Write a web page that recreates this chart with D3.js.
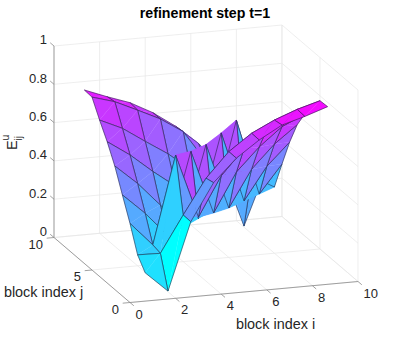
<!DOCTYPE html>
<html>
<head>
<meta charset="utf-8">
<script src="https://cdn.jsdelivr.net/npm/d3@7"></script>
<style>
  html, body { margin: 0; padding: 0; background: #fff; }
  text { font-family: "Liberation Sans", Arial, sans-serif; fill: #262626; }
</style>
</head>
<body>
<script>
// Tick values and labels
const xTicks = [0, 2, 4, 6, 8, 10];
const yTicks = [0, 5, 10];
const zTicks = [0, 0.2, 0.4, 0.6, 0.8, 1];
const blockI = [1, 2, 3, 4, 5, 6, 7, 8, 9];

// One row per block index j, values for i = 1..9
const rowJ1 = [0.110, 0.004, 0.355, 0.548, 0.665, 0.749, 0.816, 0.850, 0.890];
const rowJ2 = [0.170, 0.167, 0.356, 0.537, 0.665, 0.750, 0.808, 0.853, 0.887];
const rowJ3 = [0.300, 0.177, 0.635, 0.300, 0.505, 0.635, 0.725, 0.785, 0.820];
const rowJ4 = [0.415, 0.308, 0.180, 0.610, 0.277, 0.480, 0.600, 0.695, 0.750];
const rowJ5 = [0.532, 0.430, 0.306, 0.180, 0.600, 0.258, 0.450, 0.570, 0.660];
const rowJ6 = [0.625, 0.545, 0.448, 0.360, 0.180, 0.616, 0.250, 0.420, 0.535];
const rowJ7 = [0.704, 0.650, 0.571, 0.495, 0.400, 0.180, 0.638, 0.241, 0.387];
const rowJ8 = [0.790, 0.755, 0.700, 0.643, 0.566, 0.400, 0.300, 0.300, 0.233];
const rowJ9 = [0.793, 0.747, 0.705, 0.642, 0.560, 0.460, 0.330, 0.006, 0.300];
const rows = [rowJ1, rowJ2, rowJ3, rowJ4, rowJ5, rowJ6, rowJ7, rowJ8, rowJ9];

const width = 395, height = 340;

const svg = d3.select("body").append("svg")
  .attr("width", width)
  .attr("height", height)
  .style("display", "block");

// Oblique view: each data axis gets its own screen x and y scale.
const origin = {x: 130, y: 302.5};
const xToPx = d3.scaleLinear().domain([0, 10]).range([0, 228]);
const xToPy = d3.scaleLinear().domain([0, 10]).range([0, -21]);
const yToPx = d3.scaleLinear().domain([0, 10]).range([0, -76]);
const yToPy = d3.scaleLinear().domain([0, 10]).range([0, -65]);
const zToPy = d3.scaleLinear().domain([0, 1]).range([0, -191.5]);

function project(x, y, z) {
  return [origin.x + xToPx(x) + yToPx(y), origin.y + xToPy(x) + yToPy(y) + zToPy(z)];
}

function drawLine(g, a, b) {
  const p = project(a[0], a[1], a[2]), q = project(b[0], b[1], b[2]);
  g.append("line").attr("x1", p[0]).attr("y1", p[1]).attr("x2", q[0]).attr("y2", q[1]);
}

// Grid on the floor and the two back walls
const grid = svg.append("g").attr("stroke", "#e6e6e6").attr("stroke-width", 0.7);
xTicks.forEach(x => {
  drawLine(grid, [x, 0, 0], [x, 10, 0]);
  drawLine(grid, [x, 10, 0], [x, 10, 1]);
});
yTicks.forEach(y => {
  drawLine(grid, [0, y, 0], [10, y, 0]);
  drawLine(grid, [10, y, 0], [10, y, 1]);
});
zTicks.forEach(z => {
  drawLine(grid, [0, 10, z], [10, 10, z]);
  drawLine(grid, [10, 0, z], [10, 10, z]);
});

// Axis lines and ticks
const axes = svg.append("g").attr("stroke", "#8a8a8a").attr("stroke-width", 0.8);
drawLine(axes, [0, 0, 0], [10, 0, 0]);
drawLine(axes, [0, 0, 0], [0, 10, 0]);
drawLine(axes, [0, 10, 0], [0, 10, 1]);
xTicks.forEach(x => drawLine(axes, [x, 0, 0], [x, -0.5, 0]));
yTicks.forEach(y => drawLine(axes, [0, y, 0], [-0.32, y, 0]));
zTicks.forEach(z => drawLine(axes, [0, 10, z], [0, 10.5, z]));

// Surface, far faces first. Flat colour comes from the lowest index corner.
const allZ = rows.flat();
const color = d3.scaleLinear().domain(d3.extent(allZ)).range(["#00ffff", "#ff00ff"]);
const faces = [];
for (let j = rows.length - 2; j >= 0; j--) {
  for (let i = blockI.length - 2; i >= 0; i--) {
    faces.push({i, j});
  }
}

function corners(d) {
  return [
    project(blockI[d.i], d.j + 1, rows[d.j][d.i]),
    project(blockI[d.i + 1], d.j + 1, rows[d.j][d.i + 1]),
    project(blockI[d.i + 1], d.j + 2, rows[d.j + 1][d.i + 1]),
    project(blockI[d.i], d.j + 2, rows[d.j + 1][d.i])
  ];
}

// Each face is two triangles split on its diagonal, then the outline on top,
// since a bent quad drawn as one polygon crosses itself.
const line = d3.line();
const faceGroups = svg.append("g").selectAll("g")
  .data(faces)
  .join("g");
faceGroups.each(function(d) {
  const c = corners(d);
  const g = d3.select(this);
  [[c[0], c[1], c[2]], [c[0], c[2], c[3]]].forEach(t => {
    g.append("path")
      .attr("d", line(t) + "Z")
      .attr("fill", color(rows[d.j][d.i]))
      .attr("stroke", color(rows[d.j][d.i]))
      .attr("stroke-width", 0.3);
  });
  g.append("path")
    .attr("d", line(c) + "Z")
    .attr("fill", "none")
    .attr("stroke", "#1c1c3a")
    .attr("stroke-width", 0.55)
    .attr("stroke-linejoin", "round");
});

// Tick labels
const labels = svg.append("g").attr("font-size", 13);
xTicks.forEach(x => {
  const p = project(x, 0, 0);
  labels.append("text").attr("x", p[0] + 5.5).attr("y", p[1] + 16).text(x);
});
yTicks.forEach(y => {
  const p = project(0, y, 0);
  labels.append("text").attr("x", p[0] - 11).attr("y", p[1] + 11)
    .attr("text-anchor", "end").text(y);
});
zTicks.forEach(z => {
  const p = project(0, 10, z);
  labels.append("text").attr("x", p[0] - 7).attr("y", p[1] - 1.6)
    .attr("text-anchor", "end").text(z);
});

// Titles
svg.append("text").attr("x", 205).attr("y", 18).attr("text-anchor", "middle")
  .attr("font-size", 14.2).attr("font-weight", "bold").style("fill", "#000")
  .text("refinement step t=1");
svg.append("text").attr("x", 275.5).attr("y", 329).attr("text-anchor", "middle")
  .attr("font-size", 14.4).text("block index i");
svg.append("text").attr("x", 43.5).attr("y", 296.5).attr("text-anchor", "middle")
  .attr("font-size", 14.4).text("block index j");

// z label, E with sup and sub, written rotated
const zLabel = svg.append("g").attr("transform", "translate(17,150) rotate(-90)");
zLabel.append("text").attr("font-size", 14.4).text("E");
zLabel.append("text").attr("x", 9.5).attr("y", -8).attr("font-size", 10.5).text("u");
zLabel.append("text").attr("x", 9.5).attr("y", 5).attr("font-size", 10.5).text("ij");
</script>
</body>
</html>
